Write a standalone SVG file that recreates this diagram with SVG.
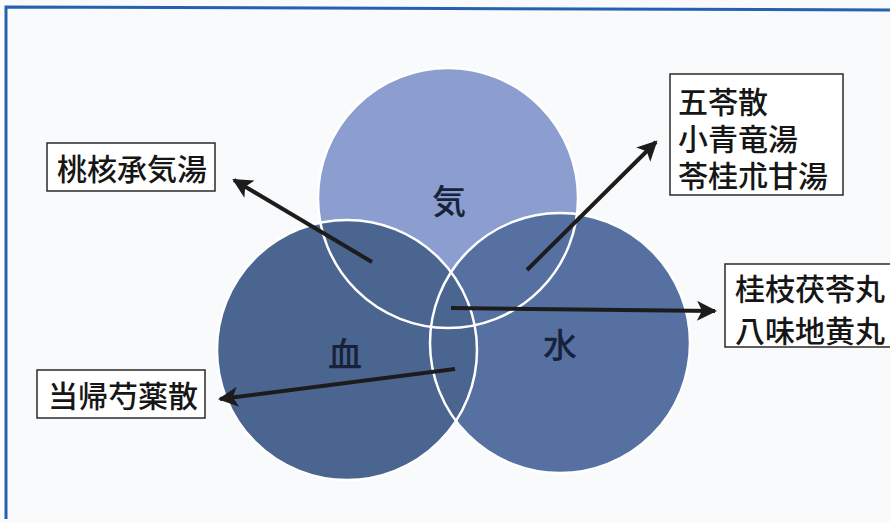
<svg xmlns="http://www.w3.org/2000/svg" width="890" height="522" viewBox="0 0 890 522">
<defs>
<style>
.lbl{font-family:"Noto Sans CJK JP","Noto Sans CJK SC",sans-serif;fill:#161616;font-weight:500;dominant-baseline:central}
.ctr{font-family:"Noto Sans CJK JP","Noto Sans CJK SC",sans-serif;fill:#17223a;font-size:34px;font-weight:500;text-anchor:middle;dominant-baseline:central}
.box{fill:#ffffff;stroke:#2a2a2a;stroke-width:1.5}
.ring{fill:none;stroke:#ffffff;stroke-width:2.5}
.arr{stroke:#1c1c1c;stroke-width:4;fill:none;marker-end:url(#ah)}
</style>
<marker id="ah" viewBox="0 0 10 10" refX="9" refY="5" markerWidth="6" markerHeight="5" orient="auto" markerUnits="strokeWidth">
<path d="M0,0 L10,5 L0,10 L2.5,5 Z" fill="#1c1c1c"/>
</marker>
<linearGradient id="bot" x1="0" y1="0" x2="1" y2="0">
<stop offset="0" stop-color="#2d6bb8"/>
<stop offset="0.25" stop-color="#7fb0e0"/>
<stop offset="1" stop-color="#cfe2f5" stop-opacity="0.3"/>
</linearGradient>
</defs>
<rect x="0" y="0" width="890" height="522" fill="#f9fafc"/>
<g id="frame">
<polyline points="6,519 6,7 890,10" fill="none" stroke="#2462b0" stroke-width="3"/>
<line x1="6" y1="519" x2="890" y2="519" stroke="url(#bot)" stroke-width="3"/>
</g>
<g id="circles">
<g id="ki"><circle cx="448" cy="198" r="130" fill="#8b9ecf"/></g>
<g id="sui"><circle cx="560" cy="343" r="130" fill="#5570a1"/></g>
<g id="ketsu"><circle cx="347" cy="350" r="130" fill="#4b6591"/></g>
<g id="rings">
<circle class="ring" cx="448" cy="198" r="130"/>
<circle class="ring" cx="560" cy="343" r="130"/>
<circle class="ring" cx="347" cy="350" r="130"/>
</g>
<text class="ctr" x="449" y="199">気</text>
<text class="ctr" x="345" y="352">血</text>
<text class="ctr" x="560" y="343">水</text>
</g>
<g id="connectors">
<line class="arr" x1="372" y1="262" x2="234" y2="180"/>
<line class="arr" x1="527" y1="270" x2="656" y2="142"/>
<line class="arr" x1="451" y1="308" x2="715" y2="311"/>
<line class="arr" x1="455" y1="369" x2="220" y2="399"/>
</g>
<g id="n_toukaku">
<rect class="box" x="47" y="143" width="168" height="48"/>
<text class="lbl" x="57" y="167" font-size="30">桃核承気湯</text>
</g>
<g id="n_goreisan">
<rect class="box" x="670" y="74" width="173" height="121"/>
<text class="lbl" x="678" y="100" font-size="30">五苓散</text>
<text class="lbl" x="678" y="137" font-size="30">小青竜湯</text>
<text class="lbl" x="678" y="174" font-size="30">苓桂朮甘湯</text>
</g>
<g id="n_keishi">
<rect class="box" x="725" y="264" width="175" height="83"/>
<text class="lbl" x="735" y="287" font-size="30">桂枝茯苓丸</text>
<text class="lbl" x="735" y="329" font-size="30">八味地黄丸</text>
</g>
<g id="n_touki">
<rect class="box" x="37" y="370" width="168" height="48"/>
<text class="lbl" x="48" y="394" font-size="30">当帰芍薬散</text>
</g>
</svg>
